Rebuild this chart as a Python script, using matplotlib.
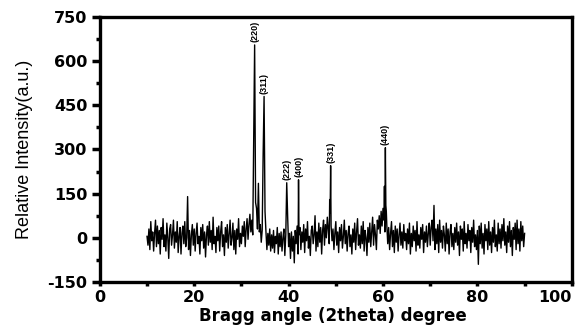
import matplotlib
matplotlib.use("Agg")
import matplotlib.pyplot as plt
import numpy as np
from matplotlib.ticker import MultipleLocator

# 2theta grid of the baseline scan (10..90 deg, 0.2 deg step)
two_theta_start = 10.0
two_theta_step = 0.2

# baseline intensity, 5 deg per row
baseline = [
    5, -25, 30, -40, 55, -10, 20, -45, 15, 60, -30, 40, -20, 25, -55, 35, -5, 65, -30, 10, -45, 50, 0, -70, 30,
    45, -25, 10, 60, -35, 20, -15, 55, -50, 5, 35, -55, 15, 40, -20, 55, -30, 0, 140, -40, 25, -60, 10, 45, -25,
    30, -45, 15, 50, -20, 5, -55, 35, -10, 45, -35, 20, -65, 10, 40, -25, 55, -15, 25, -40, 70, -20, 5, -50, 35,
    -10, 40, -45, 20, 55, -30, 10, -60, 35, -15, 45, -35, 15, 60, -25, 0, 50, -40, 25, -55, 30, -5, 65, -30, 15,
    -20, 40, 5, 55, -30, 30, 65, -5, 45, 80, 20, 60, 10, 95, 70, 50, 100, 30, 75, 20, 45, -15, 25, 5, 50,
    -10, 20, -40, 15, -25, 30, -45, 10, -35, 25, -50, 5, -20, 35, -55, 15, -30, 20, -45, 0, 30, -60, 10, -25, 70,
    -30, 15, -70, 20, -45, 5, -85, 25, -20, 40, -55, 10, 35, -40, 20, -15, 45, -50, 30, -10, 55, -35, 5, -60, 25,
    40, -20, 10, 75, -45, 20, -30, 50, -15, 35, -55, 25, 60, -25, 45, 0, 70, 30, -20, 85, 40, -10, 30, -40, 15,
    55, -25, 20, -50, 35, -10, 45, -35, 5, 60, -20, 25, -45, 15, 40, -30, 10, -55, 30, -15, 50, -40, 20, 65, -25,
    10, -35, 40, -20, 55, -45, 25, 0, -60, 35, -15, 50, -30, 20, 70, -25, 45, 10, -40, 60, 30, 75, 15, 90, 40,
    100, 60, 20, 110, 45, -20, 35, -40, 15, 55, -30, 25, -50, 40, -15, 30, -45, 10, 50, -25, 20, -35, 45, -10, 15,
    -40, 30, -20, 50, -55, 15, -30, 40, -10, 25, -45, 55, -25, 10, -35, 35, -5, 45, -50, 20, -15, 40, -30, 15, 50,
    -25, 35, 60, -10, 110, -40, 30, -20, 45, -50, 60, -15, 25, -35, 40, 10, -45, 50, -20, 30, -55, 20, 45, -30, 15,
    -40, 35, -15, 50, -25, 20, -60, 40, -5, 30, -45, 55, -20, 15, -35, 45, -10, 25, -50, 35, -15, 60, -30, 10, -40,
    25, -90, 40, -20, 50, -35, 15, -55, 45, -10, 30, -40, 55, -25, 20, -50, 35, -15, 60, -30, 10, -45, 50, -20, 30,
    -35, 45, -10, 65, -25, 20, -50, 40, -15, 55, -30, 25, -60, 35, -5, 50, -40, 60, -20, 30, -45, 55, -10, 40, -30,
    15,
]

# diffraction peak points (incl. shoulders)
peak_x = [32.6, 32.8, 33.0, 33.6, 34.6, 34.8, 35.0, 39.6, 42.1, 48.7, 48.9, 60.3, 60.5, 60.7]
peak_y = [350, 655, 120, 185, 280, 480, 90, 187, 197, 130, 245, 175, 306, 90]

# Miller indices and where their labels sit
hkl_labels = ["(220)", "(311)", "(222)", "(400)", "(331)", "(440)"]
hkl_x = [32.8, 34.8, 39.6, 42.1, 48.9, 60.5]
hkl_top = [655, 480, 187, 197, 245, 306]

x_ticks = [0, 20, 40, 60, 80, 100]
y_ticks = [-150, 0, 150, 300, 450, 600, 750]

base_x = two_theta_start + two_theta_step * np.arange(len(baseline))
base_y = np.array(baseline, dtype=float)
keep = ~np.isclose(base_x[:, None], np.array(peak_x)[None, :]).any(axis=1)
x = np.concatenate([base_x[keep], peak_x])
y = np.concatenate([base_y[keep], peak_y])
order = np.argsort(x)
x, y = x[order], y[order]

plt.rcParams["font.family"] = ["Liberation Sans", "DejaVu Sans"]
fig = plt.figure(figsize=(5.77, 3.26), dpi=100)
ax = fig.add_axes([0.173, 0.135, 0.818, 0.813])

ax.plot(x, y, color="black", lw=1.0)

for lab, px, top in zip(hkl_labels, hkl_x, hkl_top):
    ax.text(px, top + 10, lab, rotation=90, ha="center", va="bottom",
            fontsize=6.5, fontweight="bold")

ax.set_xlim(0, 100)
ax.set_ylim(-150, 750)
ax.set_xticks(x_ticks, [str(t) for t in x_ticks])
ax.set_yticks(y_ticks, [str(t) for t in y_ticks])
ax.xaxis.set_minor_locator(MultipleLocator(10))
ax.yaxis.set_minor_locator(MultipleLocator(75))

for s in ax.spines.values():
    s.set_linewidth(2.4)
ax.tick_params(axis="y", which="major", direction="out", length=6, width=2.5, pad=3)
ax.tick_params(axis="y", which="minor", direction="out", length=3, width=2.5)
ax.tick_params(axis="x", which="both", direction="out", length=3, width=2.5, pad=3)
for lab in ax.get_xticklabels() + ax.get_yticklabels():
    lab.set_fontfamily("DejaVu Sans")
    lab.set_fontweight("bold")
    lab.set_fontsize(11.5)
ax.get_xticklabels()[-1].set_ha("right")
ax.get_xticklabels()[-1].set_x(100.4)

ax.set_xlabel("Bragg angle (2theta) degree", fontsize=12, fontweight="bold",
              family="DejaVu Sans", va="top")
ax.xaxis.set_label_coords(0.494, -0.094)
ax.set_ylabel("Relative Intensity(a.u.)", fontsize=13)
ax.yaxis.set_label_coords(-0.142, 0.5)

fig.savefig("out.png", dpi=100)
